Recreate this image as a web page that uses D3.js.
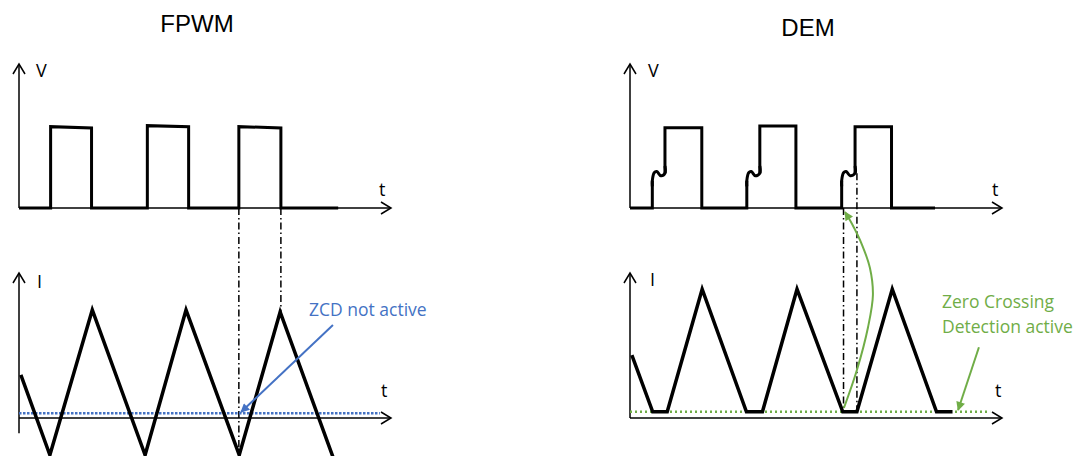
<!DOCTYPE html>
<html>
<head>
<meta charset="utf-8">
<script src="https://cdn.jsdelivr.net/npm/d3@7"></script>
<style>
body { margin: 0; background: #fff; }
</style>
</head>
<body>
<div id="graph"></div>
<script>
//measurements
var width = 1089;
var height = 456;

//time axis goes 0..10 in both panels, level axis 0..10
var leftX = d3.scaleLinear().domain([0, 10]).range([19, 391]);
var rightX = d3.scaleLinear().domain([0, 10]).range([630, 1002]);
var vY = d3.scaleLinear().domain([0, 10]).range([208, 64]);
var iY = d3.scaleLinear().domain([0, 10]).range([418, 273]);

//FPWM switch node voltage
var fpwmVt = [0, 0.85, 0.85, 1.95, 1.95, 3.45, 3.45, 4.56, 4.56, 5.91, 5.91, 7.04, 7.04, 8.58];
var fpwmVv = [0, 0, 5.65, 5.56, 0, 0, 5.72, 5.65, 0, 0, 5.65, 5.56, 0, 0];
//FPWM inductor current
var fpwmIt = [0.05, 0.83, 1.97, 3.39, 4.49, 5.92, 7.02, 8.45];
var fpwmIv = [2.97, -2.55, 7.45, -2.55, 7.45, -2.55, 7.31, -2.76];
var fpwmZero = 0.32;
var fpwmZeroEnd = 9.7;
var fpwmMarks = [5.91, 7.04];

//DEM pulses
var demRise = [0.6, 3.14, 5.69];
var demStep = [0.94, 3.49, 6.05];
var demFall = [1.93, 4.46, 7.03];
var demTop = [5.58, 5.69, 5.65];
var demEnd = 8.2;
//ringing before the high side turns on (offset from rise, level)
var wiggleDt = [0, 0, 0.05, 0.12, 0.23];
var wiggleV = [1.5, 1.9, 2.45, 2.53, 2.24];
var wiggleStepV = 2.41;
//DEM inductor current
var demIt = [0.05, 0.61, 1.0, 1.94, 3.13, 3.56, 4.49, 5.72, 6.1, 7.05, 8.24, 8.67];
var demIv = [4.34, 0.43, 0.43, 8.88, 0.43, 0.43, 8.88, 0.43, 0.43, 8.88, 0.43, 0.43];
var demZero = 0.43;
var demZeroEnd = 9.68;
var demMarks = [5.74, 6.1];

//annotations (time, current level)
var zcdArrowT = [8.44, 5.97];
var zcdArrowV = [6.41, 0.41];
var curveT = [5.75, 6.10, 6.40, 6.53, 6.45, 6.24, 5.97, 5.78];
var curveV = [0.69, 3.31, 6.28, 8.48, 10.34, 11.93, 13.38, 14.21];
var zcdOnT = [9.38, 8.82];
var zcdOnV = [4.88, 0.55];

var blue = "#4472c4";
var green = "#70ad47";
var textFont = "'Open Sans', sans-serif";

var svg = d3.select("#graph").append("svg")
    .attr("width", width)
    .attr("height", height);

var defs = svg.append("defs");
[["arrowBlue", blue], ["arrowGreen", green]].forEach(function (m) {
    defs.append("marker")
        .attr("id", m[0])
        .attr("viewBox", "0 0 10 10")
        .attr("refX", 9)
        .attr("refY", 5)
        .attr("markerUnits", "userSpaceOnUse")
        .attr("markerWidth", 11)
        .attr("markerHeight", 9)
        .attr("orient", "auto")
        .append("path")
        .attr("d", "M0,0 L10,5 L0,10 z")
        .attr("fill", m[1]);
});

function line(x, y, curve) {
    return d3.line()
        .defined(function (d) { return d != null; })
        .x(function (d) { return x(d[0]); })
        .y(function (d) { return y(d[1]); })
        .curve(curve || d3.curveLinear);
}

function drawAxis(x, y, bottom, yName, nameDx, nameDy, tDx, tDy) {
    var g = svg.append("g")
        .attr("fill", "none")
        .attr("stroke", "#000")
        .attr("stroke-width", 1.5);
    var x0 = x(0), x1 = x(10), y0 = y(0), y1 = y(10);
    g.append("line").attr("x1", x0).attr("x2", x0).attr("y1", y(bottom)).attr("y2", y1);
    g.append("line").attr("x1", x0).attr("x2", x1).attr("y1", y0).attr("y2", y0);
    g.append("path").attr("d", "M" + (x0 - 6) + "," + (y1 + 10) + "L" + x0 + "," + y1 + "L" + (x0 + 6) + "," + (y1 + 10));
    g.append("path").attr("d", "M" + (x1 - 10) + "," + (y0 - 6) + "L" + x1 + "," + y0 + "L" + (x1 - 10) + "," + (y0 + 6));

    svg.append("text")
        .attr("x", x0 + nameDx)
        .attr("y", y1 + nameDy)
        .style("font-family", textFont)
        .style("font-size", "18px")
        .text(yName);
    svg.append("text")
        .attr("x", x1 + tDx)
        .attr("y", y0 + tDy)
        .style("font-family", textFont)
        .style("font-size", "18px")
        .text("t");
}

function dashDot(x, t, yTop, yBottom) {
    svg.append("line")
        .attr("x1", x(t)).attr("x2", x(t))
        .attr("y1", yTop).attr("y2", yBottom)
        .attr("stroke", "#000")
        .attr("stroke-width", 1.5)
        .attr("stroke-dasharray", "7,3,1.5,3");
}

function title(x, y, name) {
    svg.append("text")
        .attr("x", x)
        .attr("y", y)
        .attr("text-anchor", "middle")
        .style("font-family", "'Liberation Sans', Arial, sans-serif")
        .style("font-size", "24px")
        .text(name);
}

// ---------------- FPWM ----------------
title(197, 32, "FPWM");
drawAxis(leftX, vY, 0, "V", 17, 13, -12, -12);
drawAxis(leftX, iY, -1.05, "I", 18, 15, -10, -21);

dashDot(leftX, fpwmMarks[0], vY(0), height + 2);
dashDot(leftX, fpwmMarks[1], vY(0), iY(7.31));

svg.append("line")
    .attr("x1", leftX(0)).attr("x2", leftX(fpwmZeroEnd))
    .attr("y1", iY(fpwmZero)).attr("y2", iY(fpwmZero))
    .attr("stroke", blue)
    .attr("stroke-width", 2.5)
    .attr("stroke-dasharray", "2.5,1.5");

svg.append("path")
    .datum(d3.zip(fpwmVt, fpwmVv))
    .attr("d", line(leftX, vY))
    .attr("fill", "none")
    .attr("stroke", "#000")
    .attr("stroke-width", 3);

svg.append("path")
    .datum(d3.zip(fpwmIt, fpwmIv))
    .attr("d", line(leftX, iY))
    .attr("fill", "none")
    .attr("stroke", "#000")
    .attr("stroke-width", 3.5);

svg.append("path")
    .datum(d3.zip(zcdArrowT, zcdArrowV))
    .attr("d", line(leftX, iY))
    .attr("fill", "none")
    .attr("stroke", blue)
    .attr("stroke-width", 2)
    .attr("marker-end", "url(#arrowBlue)");

svg.append("text")
    .attr("x", 309)
    .attr("y", 316)
    .attr("fill", blue)
    .style("font-family", textFont)
    .style("font-size", "17.5px")
    .style("font-weight", 500)
    .text("ZCD not active");

// ---------------- DEM ----------------
title(808, 36, "DEM");
drawAxis(rightX, vY, 0, "V", 18, 13, -10, -12);
drawAxis(rightX, iY, 0, "I", 20, 13, -7, -21);

dashDot(rightX, demMarks[0], vY(0), iY(demZero));
dashDot(rightX, demMarks[1], vY(wiggleStepV), iY(demZero));

svg.append("line")
    .attr("x1", rightX(0)).attr("x2", rightX(demZeroEnd))
    .attr("y1", iY(demZero)).attr("y2", iY(demZero))
    .attr("stroke", green)
    .attr("stroke-width", 2.5)
    .attr("stroke-dasharray", "2,3");

// voltage: straight parts with gaps where the ringing goes
var demV = [[0, 0]];
demRise.forEach(function (r, i) {
    demV.push([r, 0], [r, wiggleV[1]], null,
        [demStep[i], wiggleStepV], [demStep[i], demTop[i]],
        [demFall[i], demTop[i]], [demFall[i], 0]);
});
demV.push([demEnd, 0]);

svg.append("path")
    .datum(demV)
    .attr("d", line(rightX, vY))
    .attr("fill", "none")
    .attr("stroke", "#000")
    .attr("stroke-width", 3);

demRise.forEach(function (r, i) {
    var pts = wiggleDt.map(function (dt, k) { return [r + dt, wiggleV[k]]; });
    pts.push([demStep[i], wiggleStepV], [demStep[i], wiggleStepV + 0.5]);
    svg.append("path")
        .datum(pts)
        .attr("d", line(rightX, vY, d3.curveCatmullRom))
        .attr("fill", "none")
        .attr("stroke", "#000")
        .attr("stroke-width", 3);
});

svg.append("path")
    .datum(d3.zip(demIt, demIv))
    .attr("d", line(rightX, iY))
    .attr("fill", "none")
    .attr("stroke", "#000")
    .attr("stroke-width", 3.5);

svg.append("path")
    .datum(d3.zip(curveT, curveV))
    .attr("d", line(rightX, iY, d3.curveCatmullRom))
    .attr("fill", "none")
    .attr("stroke", green)
    .attr("stroke-width", 2)
    .attr("marker-end", "url(#arrowGreen)");

svg.append("path")
    .datum(d3.zip(zcdOnT, zcdOnV))
    .attr("d", line(rightX, iY))
    .attr("fill", "none")
    .attr("stroke", green)
    .attr("stroke-width", 2)
    .attr("marker-end", "url(#arrowGreen)");

var zcdText = svg.append("text")
    .attr("fill", green)
    .style("font-family", textFont)
    .style("font-size", "17.5px")
    .style("font-weight", 500);
zcdText.append("tspan").attr("x", 942).attr("y", 308).text("Zero Crossing");
zcdText.append("tspan").attr("x", 942).attr("y", 333).text("Detection active");
</script>
</body>
</html>
